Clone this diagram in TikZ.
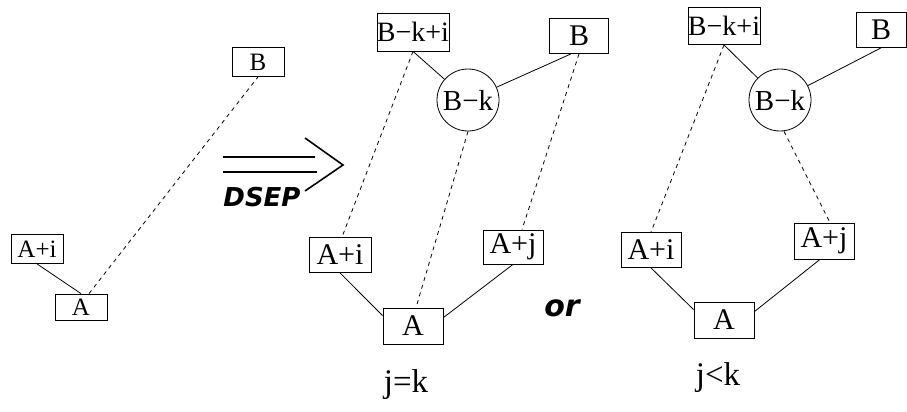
\documentclass[tikz,border=0pt]{standalone}
\usepackage{fontspec}
\setmainfont{Liberation Serif}
\newfontfamily\labelfont{Liberation Serif}
\newfontfamily\dsepfont{DejaVu Sans}
\begin{document}
\begin{tikzpicture}[x=1pt,y=-1pt,
  smallbox/.style={draw,line width=0.8pt,inner sep=0pt,minimum width=52pt,minimum height=29pt,font=\labelfont\fontsize{25}{25}\selectfont},
  bigbox/.style={draw,line width=0.8pt,inner sep=0pt,minimum width=60pt,minimum height=35pt,font=\labelfont\fontsize{30}{30}\selectfont},
  knot/.style={draw,circle,line width=0.8pt,inner sep=0pt,minimum size=62pt,font=\labelfont\fontsize{29}{29}\selectfont},
  link/.style={line width=0.8pt},
  dep/.style={line width=0.8pt,dash pattern=on 4pt off 4pt},
  cond/.style={font=\labelfont\fontsize{33}{33}\selectfont},
  slogan/.style={font=\dsepfont\bfseries\itshape\fontsize{26}{26}\selectfont}]
  \useasboundingbox (0,0) rectangle (907,412);
  %Before the step
  \node[smallbox] (LB) at (258,62) {B};
  \node[smallbox] (LAi) at (37,249) {A+i};
  \node[smallbox,minimum height=26pt] (LA) at (81,307) {A};
  \draw[link] (LAi.south) -- (LA.north);
  \draw[dep] ([xshift=8pt]LA.north) -- (LB.south);
  %DSEP arrow
  \draw[line width=1.6pt] (223,157) -- (315,157);
  \draw[line width=1.6pt] (223,172) -- (317,172);
  \draw[line width=1.6pt] (305,138) -- (343,165) -- (305,191);
  \node[slogan] (dsep) at (262,197) {DSEP};
  %Case j=k
  \node[bigbox,minimum width=71pt,minimum height=38pt,font=\labelfont\fontsize{28}{28}\selectfont] (MBki) at (413,32) {B−k+i};
  \node[bigbox,minimum width=59pt] (MB) at (579,36) {B};
  \node[knot] (MBk) at (468,100) {B−k};
  \node[bigbox,minimum width=62pt] (MAi) at (340,255) {A+i};
  \node[bigbox,minimum height=34pt] (MAj) at (513,247) {A+j};
  \node[bigbox,minimum height=36pt] (MA) at (413,326) {A};
  \draw[link] (MBki.south) -- (MBk);
  \draw[link] ([xshift=-8pt]MB.south) -- (MBk);
  \draw[link] (MAi.south) -- ([yshift=-8pt]MA.north west);
  \draw[link] (MAj.south) -- ([yshift=-10pt]MA.north east);
  \draw[dep] (MBki.south) -- ([xshift=2pt]MAi.north);
  \draw[dep] (MBk.south) -- ([xshift=3pt]MA.north);
  \draw[dep] (MB.south) -- ([xshift=9pt]MAj.north);
  \node[cond] (jeqk) at (406,385) {j=k};
  \node[slogan,font=\dsepfont\bfseries\itshape\fontsize{30}{30}\selectfont] (or) at (562,308) {or};
  %Case j<k
  \node[bigbox,minimum width=71pt,minimum height=37pt,font=\labelfont\fontsize{28}{28}\selectfont] (RBki) at (724,26) {B−k+i};
  \node[bigbox,minimum width=50pt] (RB) at (881,30) {B};
  \node[knot] (RBk) at (780,100) {B−k};
  \node[bigbox] (RAi) at (651,250) {A+i};
  \node[bigbox,minimum height=36pt] (RAj) at (824,241) {A+j};
  \node[bigbox,minimum height=36pt] (RA) at (724,320) {A};
  \draw[link] (RBki.south) -- (RBk);
  \draw[link] (RB.south) -- (RBk);
  \draw[link] (RAi.south) -- ([yshift=-8pt]RA.north west);
  \draw[link] ([xshift=-4pt]RAj.south) -- ([yshift=-10pt]RA.north east);
  \draw[dep] (RBki.south) -- (RAi.north);
  \draw[dep] ([xshift=4pt]RBk.south) -- ([xshift=6pt]RAj.north);
  \node[cond] (jltk) at (718,378) {j<k};
\end{tikzpicture}
\end{document}
